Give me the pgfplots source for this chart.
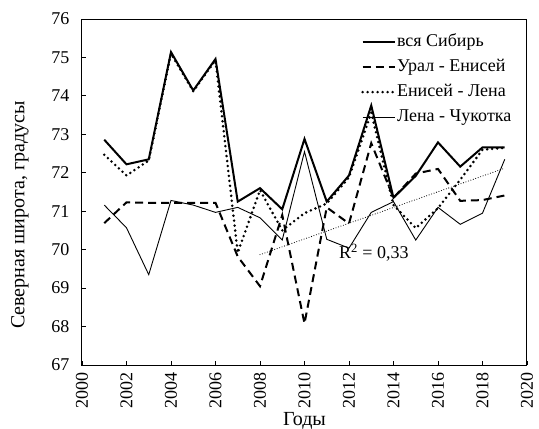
\documentclass[border=0pt]{standalone}
\usepackage{fontspec}
\setmainfont{Liberation Serif}
\usepackage{pgfplots}
\pgfplotsset{compat=1.18}

\begin{document}
\begin{tikzpicture}[font=\fontsize{18}{21}\selectfont]
\begin{axis}[
    scale only axis,
    width=445pt, height=346pt,
    xmin=2000, xmax=2020, ymin=67, ymax=76,
    xtick={2000,2002,...,2020}, ytick={67,68,...,76},
    /pgf/number format/assume math mode=true,
    x tick label style={/pgf/number format/1000 sep={}, rotate=90, anchor=east},
    xticklabel shift=4pt, yticklabel shift=9pt,
    tick align=inside, tick style={black, line width=0.8pt},
    major tick length=4pt,
    xtick pos=bottom, ytick pos=left,
    axis line style={line width=1pt},
    xlabel={Годы}, ylabel={Северная широта, градусы},
    xlabel style={font=\fontsize{20}{24}\selectfont, at={(rel axis cs:0.5,0)},
        anchor=center, yshift=-56pt, inner sep=0pt},
    ylabel style={font=\fontsize{20}{24}\selectfont, at={(rel axis cs:0,0.5)},
        anchor=center, yshift=62pt, xshift=-23pt, inner sep=0pt},
    legend cell align=left,
    legend style={at={(rel axis cs:0.627,0.96)}, anchor=north west, draw=none, fill=none,
        row sep=7pt, inner sep=0pt,
        nodes={inner sep=1pt, text height=12pt, text depth=4pt}},
    legend image code/.code={\draw[#1] (0pt,0pt) -- (32pt,0pt);},
]
\addplot[black, line width=2pt] coordinates {
 (2001,72.86) (2002,72.22) (2003,72.35) (2004,75.14) (2005,74.14) (2006,74.96)
 (2007,71.25) (2008,71.60) (2009,71.05) (2010,72.88) (2011,71.25) (2012,71.93)
 (2013,73.75) (2014,71.35) (2015,71.92) (2016,72.79) (2017,72.16) (2018,72.66) (2019,72.66)};
\addlegendentry{вся Сибирь}
\addplot[black, line width=2pt, dash pattern=on 8pt off 5pt] coordinates {
 (2001,70.69) (2002,71.23) (2003,71.22) (2004,71.22) (2005,71.22) (2006,71.22)
 (2007,69.82) (2008,69.05) (2009,70.90) (2010,68.08) (2011,71.10) (2012,70.68)
 (2013,72.77) (2014,71.35) (2015,71.98) (2016,72.10) (2017,71.27) (2018,71.29) (2019,71.41)};
\addlegendentry{Урал - Енисей}
\addplot[black, line width=2.8pt, line cap=round, dash pattern=on 0pt off 5pt] coordinates {
 (2001,72.47) (2002,71.93) (2003,72.32) (2004,75.10) (2005,74.12) (2006,74.93)
 (2007,69.92) (2008,71.55) (2009,70.50) (2010,70.95) (2011,71.20) (2012,71.88)
 (2013,73.56) (2014,71.16) (2015,70.56) (2016,71.08) (2017,71.82) (2018,72.60) (2019,72.65)};
\addlegendentry{Енисей - Лена}
\addplot[black, line width=0.9pt] coordinates {
 (2001,71.16) (2002,70.57) (2003,69.35) (2004,71.28) (2005,71.16) (2006,70.97)
 (2007,71.10) (2008,70.83) (2009,70.25) (2010,72.55) (2011,70.27) (2012,70.04)
 (2013,70.97) (2014,71.25) (2015,70.25) (2016,71.10) (2017,70.66) (2018,70.95) (2019,72.35)};
\addlegendentry{Лена - Чукотка}
% linear trend
\addplot[black, line width=1.1pt, line cap=round, dash pattern=on 0pt off 2.6pt, forget plot]
 coordinates {(2008,69.87) (2019,72.12)};
\node[anchor=west, inner sep=0pt] at (axis cs:2011.55,69.92) {R\textsuperscript{2} = 0,33};
\end{axis}
\pgfresetboundingbox
\path (-82pt,-64pt) rectangle (457pt,365pt);
\end{tikzpicture}
\end{document}
